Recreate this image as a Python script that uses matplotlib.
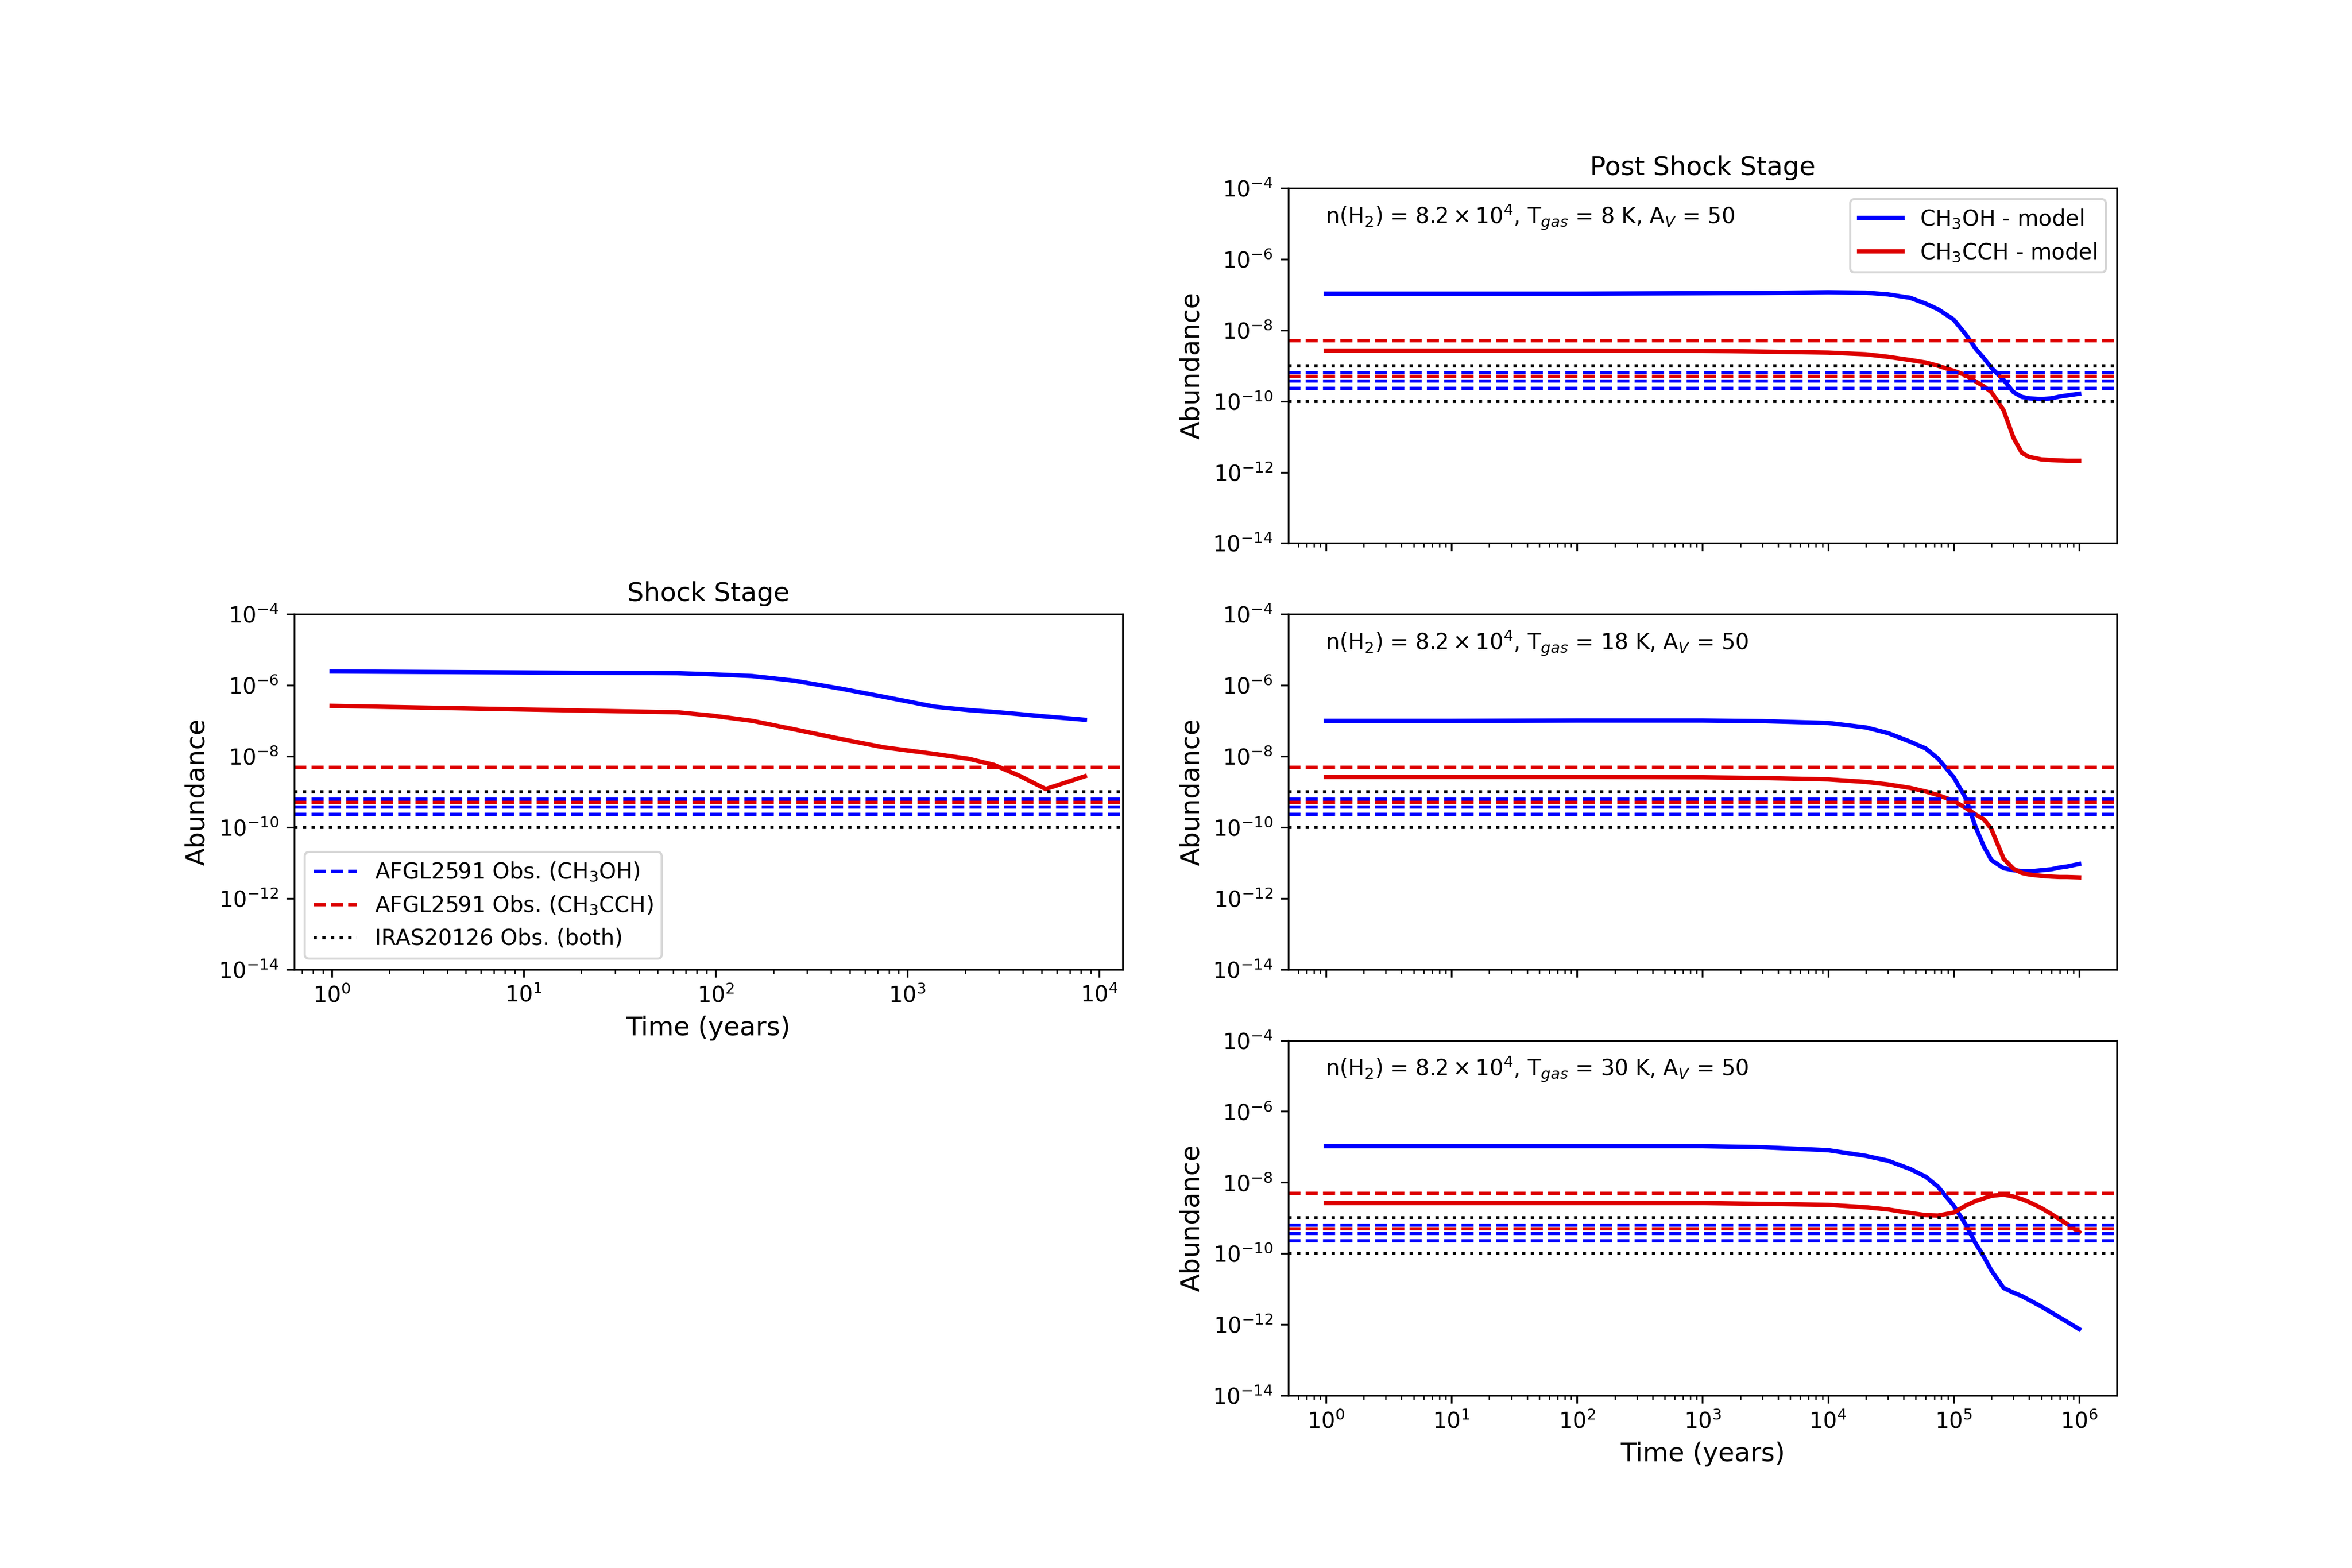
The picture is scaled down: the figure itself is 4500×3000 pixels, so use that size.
import matplotlib
matplotlib.use("Agg")
import matplotlib.pyplot as plt

# ---------------- data ----------------
# Shock stage
t_shock = [1, 5, 25, 63, 95, 155, 257, 447, 759, 1380, 2090, 2820, 3800, 5250, 6920, 8400]
ch3oh_shock = [2.45e-6, 2.34e-6, 2.24e-6, 2.19e-6, 2.04e-6, 1.82e-6, 1.35e-6, 8.1e-7,
               4.7e-7, 2.5e-7, 2.0e-7, 1.78e-7, 1.55e-7, 1.32e-7, 1.17e-7, 1.07e-7]
ch3cch_shock = [2.63e-7, 2.24e-7, 1.9e-7, 1.74e-7, 1.41e-7, 1.0e-7, 5.75e-8, 3.1e-8,
                1.78e-8, 1.17e-8, 8.5e-9, 5.75e-9, 2.9e-9, 1.2e-9, 1.95e-9, 2.75e-9]

# Post shock stage (common time grid)
t_post = [1, 10, 100, 1000, 3000, 1e4, 2e4, 3e4, 4.5e4, 6e4, 7.5e4, 1e5, 1.25e5, 1.5e5,
          1.75e5, 2e5, 2.5e5, 3e5, 3.5e5, 4e5, 5e5, 6e5, 7e5, 8e5, 1e6]

ch3oh_8K = [1.07e-7, 1.07e-7, 1.07e-7, 1.10e-7, 1.12e-7, 1.17e-7, 1.14e-7, 1.02e-7, 8.2e-8,
            5.6e-8, 3.9e-8, 2.0e-8, 7.6e-9, 3.0e-9, 1.6e-9, 8.7e-10, 4.0e-10, 1.8e-10,
            1.32e-10, 1.2e-10, 1.15e-10, 1.2e-10, 1.35e-10, 1.45e-10, 1.62e-10]
ch3cch_8K = [2.66e-9, 2.66e-9, 2.66e-9, 2.63e-9, 2.5e-9, 2.34e-9, 2.1e-9, 1.78e-9, 1.45e-9,
             1.23e-9, 1.0e-9, 7.2e-10, 5.4e-10, 3.6e-10, 2.6e-10, 1.8e-10, 5.6e-11, 9.3e-12,
             3.5e-12, 2.7e-12, 2.3e-12, 2.2e-12, 2.15e-12, 2.1e-12, 2.1e-12]

ch3oh_18K = [1.0e-7, 1.0e-7, 1.02e-7, 1.02e-7, 9.8e-8, 8.7e-8, 6.5e-8, 4.5e-8, 2.6e-8,
             1.66e-8, 8.7e-9, 2.6e-9, 6.6e-10, 1.0e-10, 2.8e-11, 1.2e-11, 7.1e-12, 6.2e-12,
             5.9e-12, 5.75e-12, 6.2e-12, 6.6e-12, 7.4e-12, 7.9e-12, 9.3e-12]
ch3cch_18K = [2.63e-9, 2.63e-9, 2.63e-9, 2.57e-9, 2.45e-9, 2.24e-9, 1.9e-9, 1.62e-9, 1.29e-9,
              1.02e-9, 8.1e-10, 5.6e-10, 3.5e-10, 2.3e-10, 1.66e-10, 8.9e-11, 1.32e-11, 6.8e-12,
              5.2e-12, 4.7e-12, 4.3e-12, 4.1e-12, 4.0e-12, 4.0e-12, 3.9e-12]

ch3oh_30K = [1.05e-7, 1.05e-7, 1.05e-7, 1.05e-7, 9.8e-8, 8.1e-8, 5.6e-8, 4.1e-8, 2.4e-8,
             1.45e-8, 7.6e-9, 2.24e-9, 6.5e-10, 1.9e-10, 7.9e-11, 3.3e-11, 1.07e-11, 7.9e-12,
             6.3e-12, 4.9e-12, 3.2e-12, 2.2e-12, 1.58e-12, 1.2e-12, 7.4e-13]
ch3cch_30K = [2.63e-9, 2.63e-9, 2.63e-9, 2.63e-9, 2.5e-9, 2.34e-9, 2.0e-9, 1.74e-9, 1.38e-9,
              1.2e-9, 1.17e-9, 1.41e-9, 2.24e-9, 3.0e-9, 3.6e-9, 4.2e-9, 4.6e-9, 4.0e-9,
              3.4e-9, 2.8e-9, 1.9e-9, 1.29e-9, 9.1e-10, 6.8e-10, 4.0e-10]

# Observations
afgl_ch3oh_obs = [6.3e-10, 3.7e-10, 2.3e-10]
afgl_ch3cch_obs = [5e-9, 5e-10]
iras_obs = [1e-9, 1e-10]

post_temps = [8, 18, 30]
post_ch3oh = [ch3oh_8K, ch3oh_18K, ch3oh_30K]
post_ch3cch = [ch3cch_8K, ch3cch_18K, ch3cch_30K]

BLUE = "#0000ff"
RED = "#dd0000"

fig = plt.figure(figsize=(15, 10), dpi=300)


def draw_obs(ax, label=True):
    for i, v in enumerate(afgl_ch3oh_obs):
        ax.axhline(v, color=BLUE, ls="--", lw=1.5,
                   label="AFGL2591 Obs. (CH$_3$OH)" if (label and i == 0) else None)
    for i, v in enumerate(afgl_ch3cch_obs):
        ax.axhline(v, color=RED, ls="--", lw=1.5,
                   label="AFGL2591 Obs. (CH$_3$CCH)" if (label and i == 0) else None)
    for i, v in enumerate(iras_obs):
        ax.axhline(v, color="black", ls=":", lw=1.5,
                   label="IRAS20126 Obs. (both)" if (label and i == 0) else None)


# Left: shock stage
ax = fig.add_subplot(3, 2, 3)
ax.plot(t_shock, ch3oh_shock, color=BLUE, lw=2)
ax.plot(t_shock, ch3cch_shock, color=RED, lw=2)
draw_obs(ax, label=True)
ax.set_xscale("log")
ax.set_yscale("log")
ax.set_ylim(1e-14, 1e-4)
ax.set_title("Shock Stage", fontsize=12)
ax.set_xlabel("Time (years)", fontsize=12)
ax.set_ylabel("Abundance", fontsize=12)
ax.legend(loc="lower left", fontsize=10)

# Right: post shock stage
for k, (T, yo, yc) in enumerate(zip(post_temps, post_ch3oh, post_ch3cch)):
    ax = fig.add_subplot(3, 2, 2 * (k + 1))
    l1, = ax.plot(t_post, yo, color=BLUE, lw=2, label="CH$_3$OH - model")
    l2, = ax.plot(t_post, yc, color=RED, lw=2, label="CH$_3$CCH - model")
    draw_obs(ax, label=False)
    ax.set_xscale("log")
    ax.set_yscale("log")
    ax.set_ylim(1e-14, 1e-4)
    ax.set_ylabel("Abundance", fontsize=12)
    ax.text(0.045, 0.9,
            r"n(H$_2$) = $8.2\times10^4$, T$_{gas}$ = %d K, A$_V$ = 50" % T,
            transform=ax.transAxes, fontsize=10)
    if k == 0:
        ax.set_title("Post Shock Stage", fontsize=12)
        ax.legend(handles=[l1, l2], loc="upper right", fontsize=10)
    if k < 2:
        ax.tick_params(axis="x", which="both", labelbottom=False)
    else:
        ax.set_xlabel("Time (years)", fontsize=12)

fig.savefig("out.png", dpi=300)
